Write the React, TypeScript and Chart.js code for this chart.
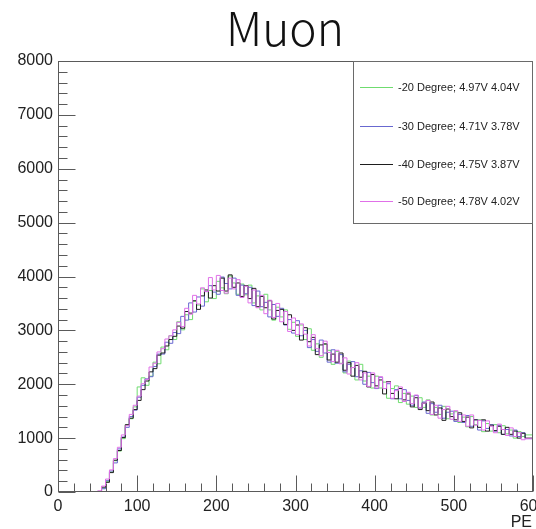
import React, { useEffect, useRef } from "react";
import { Chart, registerables } from "chart.js";

Chart.register(...registerables);

// Histogram binning: 120 bins of 5 PE from 0 to 600 (lower edges)
const BIN_WIDTH = 5;
const binEdges: number[] = Array.from({ length: 120 }, (_, i) => i * BIN_WIDTH);

const seriesLabels = [
  "-20 Degree; 4.97V 4.04V",
  "-30 Degree; 4.71V 3.78V",
  "-40 Degree; 4.75V 3.87V",
  "-50 Degree; 4.78V 4.02V",
];

const seriesColors = ["#6fdc6f", "#6868d0", "#1e1e1e", "#e070e8"];

const deg20 = [
  0, 0, 0, 0, 0, 0, 0, 0, 0, 0, 0,
  8, 70, 190, 370, 580, 760, 990, 1240, 1360, 1580,
  1950, 2120, 1980, 2150, 2410, 2380, 2690, 2640, 2900, 2830,
  3160, 3010, 3290, 3200, 3540, 3470, 3770, 3530, 3740, 3590,
  3910, 3790, 3680, 4010, 3880, 3670, 3860, 3660, 3840, 3510,
  3640, 3380, 3670, 3380, 3190, 3430, 3250, 3380, 3020, 3150,
  2890, 3100, 2830, 3030, 2630, 2750, 2500, 2740, 2630, 2370,
  2610, 2390, 2210, 2430, 2310, 2080, 2370, 2060, 2150, 1930,
  2150, 1930, 2040, 1740, 1920, 1970, 1660, 1830, 1630, 1780,
  1570, 1750, 1570, 1710, 1430, 1570, 1440, 1590, 1360, 1450,
  1490, 1290, 1390, 1210, 1400, 1250, 1340, 1120, 1270, 1130,
  1250, 1100, 1230, 1080, 1150, 1000, 1120, 1030, 1060,
];

const deg30 = [
  0, 0, 0, 0, 0, 0, 0, 0, 0, 0, 0,
  5, 60, 210, 390, 540, 800, 1020, 1200, 1400, 1520,
  1760, 1980, 2100, 2140, 2330, 2560, 2560, 2780, 2760, 2960,
  2940, 3260, 3190, 3510, 3340, 3620, 3450, 3720, 3830, 3710,
  3670, 3990, 3870, 3770, 3970, 3650, 3840, 3680, 3800, 3460,
  3730, 3440, 3520, 3250, 3480, 3260, 3410, 3100, 3200, 2950,
  3180, 2900, 3000, 2680, 2830, 2610, 2820, 2580, 2410, 2640,
  2390, 2550, 2230, 2370, 2420, 2140, 2250, 2000, 2220, 2030,
  1920, 2130, 1920, 2010, 1730, 1900, 1730, 1900, 1700, 1610,
  1790, 1560, 1670, 1460, 1640, 1480, 1610, 1370, 1480, 1500,
  1310, 1440, 1290, 1420, 1220, 1340, 1150, 1320, 1180, 1250,
  1130, 1240, 1070, 1160, 1040, 1150, 1030, 1100, 990,
];

const deg40 = [
  0, 0, 0, 0, 0, 0, 0, 0, 0, 0, 0,
  12, 90, 180, 360, 590, 770, 1010, 1250, 1370, 1530,
  1700, 1900, 2060, 2230, 2290, 2540, 2580, 2710, 2830, 2890,
  3080, 3040, 3350, 3320, 3550, 3390, 3640, 3750, 3600, 3830,
  3730, 3970, 3730, 4030, 3800, 3880, 3630, 3830, 3590, 3780,
  3440, 3630, 3420, 3550, 3210, 3370, 3390, 3110, 3290, 3000,
  3100, 2820, 3050, 2790, 2870, 2550, 2730, 2750, 2450, 2560,
  2410, 2580, 2260, 2400, 2150, 2350, 2130, 2240, 1950, 2180,
  1970, 2080, 1820, 2050, 1830, 1730, 1920, 1710, 1820, 1580,
  1750, 1530, 1650, 1510, 1670, 1430, 1560, 1330, 1540, 1400,
  1340, 1470, 1310, 1390, 1190, 1340, 1200, 1340, 1130, 1240,
  1140, 1220, 1070, 1200, 1070, 1130, 1000, 1090, 1000,
];

const deg50 = [
  0, 0, 0, 0, 0, 0, 0, 0, 0, 0, 0,
  20, 110, 240, 410, 620, 830, 1060, 1230, 1440, 1610,
  1780, 2010, 2090, 2320, 2390, 2600, 2660, 2840, 2900, 3010,
  3150, 3070, 3410, 3300, 3650, 3490, 3790, 3720, 3980, 3750,
  4020, 3740, 3690, 3970, 3770, 3940, 3610, 3820, 3510, 3750,
  3420, 3650, 3310, 3560, 3240, 3500, 3160, 3350, 2980, 3230,
  2920, 3120, 2930, 2710, 2920, 2660, 2530, 2800, 2590, 2420,
  2630, 2380, 2490, 2190, 2310, 2400, 2080, 2210, 1960, 2210,
  1930, 2140, 1920, 2040, 1740, 1880, 1950, 1680, 1850, 1640,
  1800, 1560, 1650, 1700, 1440, 1610, 1370, 1530, 1590, 1350,
  1510, 1310, 1430, 1220, 1430, 1240, 1330, 1150, 1320, 1220,
  1100, 1260, 1160, 1050, 1190, 1030, 1100, 970, 990,
];

const seriesValues = [deg20, deg30, deg40, deg50];

const xTickValues = [0, 100, 200, 300, 400, 500, 600];
const yTickValues = [0, 1000, 2000, 3000, 4000, 5000, 6000, 7000, 8000];

const TITLE = "Muon";
const X_TITLE = "PE";

const TICK_FONT = "'Liberation Sans', Arial, sans-serif";

// Turn bin contents into step points (one extra point closes the last bin)
function toSteps(values: number[]) {
  const pts = binEdges.map((x, i) => ({ x, y: values[i] }));
  pts.push({ x: binEdges[binEdges.length - 1] + BIN_WIDTH, y: values[values.length - 1] });
  return pts;
}

// ROOT-like frame: box, inward ticks, legend box, title and axis title
const framePlugin = {
  id: "rootFrame",
  afterDatasetsDraw(chart: any) {
    const { ctx, chartArea, scales } = chart;
    const xs = scales.x;
    const ys = scales.y;
    const L = Math.round(chartArea.left) + 0.5;
    const R = Math.round(chartArea.right) - 0.5;
    const T = Math.round(chartArea.top) + 0.5;
    const B = Math.round(chartArea.bottom) - 0.5;

    ctx.save();
    ctx.strokeStyle = "#5a5a5a";
    ctx.lineWidth = 1;
    ctx.strokeRect(L, T, R - L, B - T);

    ctx.beginPath();
    for (let v = 0; v <= 600; v += 20) {
      const px = Math.round(xs.getPixelForValue(v)) + 0.5;
      const len = v % 100 === 0 ? 16 : 8;
      ctx.moveTo(px, B);
      ctx.lineTo(px, B - len);
    }
    for (let v = 0; v <= 8000; v += 200) {
      const py = Math.round(ys.getPixelForValue(v)) + 0.5;
      const len = v % 1000 === 0 ? 17 : 9;
      ctx.moveTo(L, py);
      ctx.lineTo(L + len, py);
    }
    ctx.stroke();

    // legend box in the top-right corner
    const lx0 = 353.5;
    const ly0 = T;
    const lx1 = R;
    const ly1 = 223.5;
    ctx.fillStyle = "#ffffff";
    ctx.fillRect(lx0, ly0, lx1 - lx0, ly1 - ly0);
    ctx.strokeStyle = "#6a6a6a";
    ctx.strokeRect(lx0, ly0, lx1 - lx0, ly1 - ly0);

    const rows = [87, 126, 164, 201];
    ctx.font = `11px ${TICK_FONT}`;
    ctx.textBaseline = "middle";
    ctx.textAlign = "left";
    chart.data.datasets.forEach((ds: any, i: number) => {
      ctx.fillStyle = seriesColors[i];
      ctx.fillRect(360, rows[i], 33, 1);
      ctx.fillStyle = "#222";
      ctx.fillText(ds.label, 398, rows[i] + 1);
    });

    // axis title
    ctx.fillStyle = "#222";
    ctx.font = `16px ${TICK_FONT}`;
    ctx.textAlign = "right";
    ctx.textBaseline = "alphabetic";
    ctx.fillText(X_TITLE, 532, 527);

    // chart title
    ctx.fillStyle = "#111";
    ctx.font = "300 46px 'Noto Sans CJK SC', 'Noto Sans', sans-serif";
    ctx.textAlign = "center";
    ctx.fillText(TITLE, 285, 46);
    ctx.restore();
  },
};

export default function App() {
  const canvasRef = useRef<HTMLCanvasElement | null>(null);

  useEffect(() => {
    if (!canvasRef.current) return;
    const order = [3, 2, 1, 0];
    const chart = new Chart(canvasRef.current, {
      type: "line",
      data: {
        datasets: seriesValues.map((vals, i) => ({
          label: seriesLabels[i],
          data: toSteps(vals),
          borderColor: seriesColors[i],
          backgroundColor: seriesColors[i],
          borderWidth: 1,
          pointRadius: 0,
          fill: false,
          stepped: "after" as const,
          tension: 0,
          order: order[i],
        })),
      },
      options: {
        responsive: false,
        animation: false,
        devicePixelRatio: 1,
        layout: { padding: { top: 61, right: 3, left: 0, bottom: 0 } },
        plugins: {
          legend: { display: false },
          title: { display: false },
          tooltip: { enabled: false },
        },
        scales: {
          x: {
            type: "linear",
            min: 0,
            max: 600,
            afterBuildTicks: (s: any) => {
              s.ticks = xTickValues.map((value) => ({ value }));
            },
            afterFit: (s: any) => {
              s.height = 37;
              s.paddingLeft = 0;
              s.paddingRight = 0;
            },
            grid: { display: false, drawTicks: false },
            border: { display: false },
            ticks: {
              autoSkip: false,
              maxRotation: 0,
              padding: 5,
              color: "#222",
              font: { family: TICK_FONT, size: 16 },
              callback: (v: any) => String(v),
            },
          },
          y: {
            type: "linear",
            min: 0,
            max: 8000,
            afterBuildTicks: (s: any) => {
              s.ticks = yTickValues.map((value) => ({ value }));
            },
            afterFit: (s: any) => {
              s.width = 58;
              s.paddingTop = 0;
              s.paddingBottom = 0;
            },
            grid: { display: false, drawTicks: false },
            border: { display: false },
            ticks: {
              autoSkip: false,
              padding: 5,
              color: "#222",
              font: { family: TICK_FONT, size: 16 },
              callback: (v: any) => String(v),
            },
          },
        },
      },
      plugins: [framePlugin],
    });
    return () => chart.destroy();
  }, []);

  return (
    <div style={{ position: "fixed", left: 0, top: 0, width: 536, height: 529, background: "#fff" }}>
      <canvas ref={canvasRef} width={536} height={529} style={{ display: "block" }} />
    </div>
  );
}
